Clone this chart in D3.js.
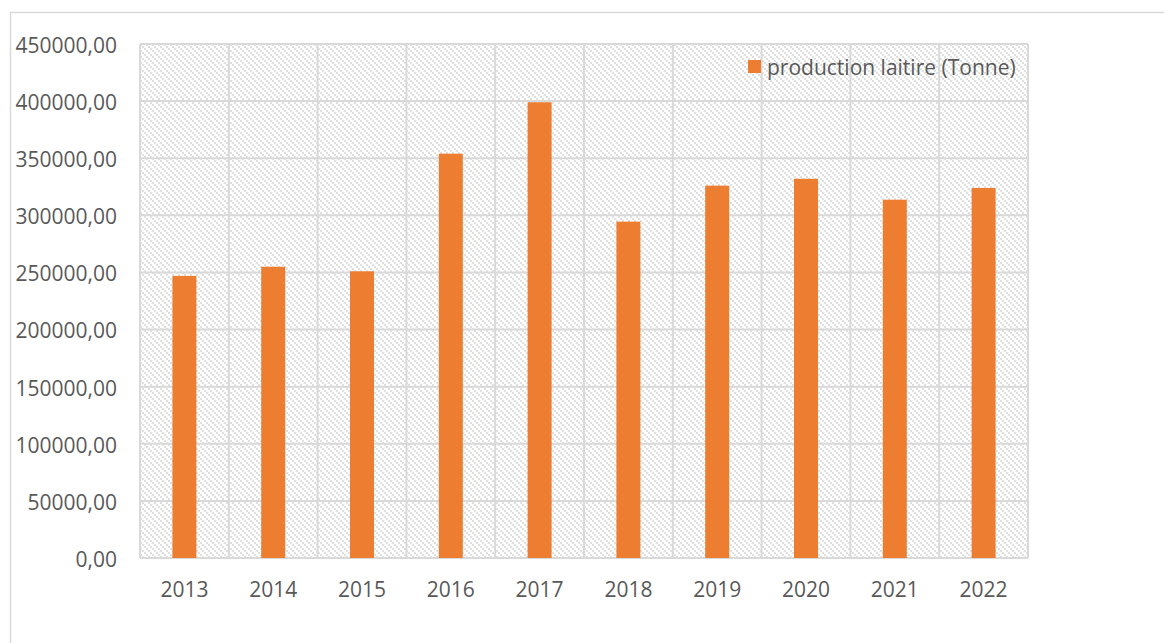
<!DOCTYPE html>
<html>
<head>
<meta charset="utf-8">
<script src="https://cdn.jsdelivr.net/npm/d3@7"></script>
<style>
  body { margin: 0; background: #fff; }
  text { font-family: "Open Sans", sans-serif; fill: #595959; }
</style>
</head>
<body>
<div id="chart"></div>
<script>
// data
const years = ["2013", "2014", "2015", "2016", "2017", "2018", "2019", "2020", "2021", "2022"];
const production = [247000, 255000, 251000, 354000, 399000, 294500, 326000, 332000, 313700, 324000];
const yTicks = [0, 50000, 100000, 150000, 200000, 250000, 300000, 350000, 400000, 450000];
const seriesName = "production laitire (Tonne)";

const width = 1164, height = 643;
const plot = { left: 140, right: 1028, top: 44, bottom: 558 };
const fontSize = 21;

const svg = d3.select('#chart')
    .append('svg')
    .attr('width', width)
    .attr('height', height);

// hatch pattern like excel's dotted diagonal fill
const defs = svg.append('defs');
const pat = defs.append('pattern')
    .attr('id', 'hatch')
    .attr('patternUnits', 'userSpaceOnUse')
    .attr('width', 6)
    .attr('height', 6);
pat.append('rect').attr('width', 6).attr('height', 6).attr('fill', '#fff');
[[0, 0], [2, 2], [4, 4]].forEach(p => {
    pat.append('rect')
        .attr('x', p[0]).attr('y', p[1])
        .attr('width', 2).attr('height', 2)
        .attr('fill', '#e0e0e0');
});

// outer chart frame
svg.append('rect')
    .attr('x', 10.5).attr('y', 12.5)
    .attr('width', 1300).attr('height', 800)
    .attr('fill', 'none')
    .attr('stroke', '#d9d9d9')
    .attr('stroke-width', 1.5);

const x = d3.scaleBand()
    .domain(years)
    .range([plot.left, plot.right])
    .paddingInner(0)
    .paddingOuter(0);

const y = d3.scaleLinear()
    .domain([0, 450000])
    .range([plot.bottom, plot.top]);

// plot background
svg.append('rect')
    .attr('x', plot.left).attr('y', plot.top)
    .attr('width', plot.right - plot.left)
    .attr('height', plot.bottom - plot.top)
    .attr('fill', 'url(#hatch)');

// horizontal gridlines
svg.append('g')
    .selectAll('line')
    .data(yTicks)
    .enter()
    .append('line')
    .attr('x1', plot.left).attr('x2', plot.right)
    .attr('y1', d => y(d)).attr('y2', d => y(d))
    .attr('stroke', '#d9d9d9')
    .attr('stroke-width', 2);

// vertical gridlines at category edges
const edges = years.map(d => x(d)).concat([plot.right]);
svg.append('g')
    .selectAll('line')
    .data(edges)
    .enter()
    .append('line')
    .attr('x1', d => d).attr('x2', d => d)
    .attr('y1', plot.top).attr('y2', plot.bottom)
    .attr('stroke', '#d9d9d9')
    .attr('stroke-width', 2);

// bars
const barW = 24;
svg.selectAll('rect.bar')
    .data(years)
    .enter()
    .append('rect')
    .attr('class', 'bar')
    .attr('x', (d) => x(d) + x.bandwidth() / 2 - barW / 2)
    .attr('y', (d, i) => y(production[i]))
    .attr('width', barW)
    .attr('height', (d, i) => y(0) - y(production[i]))
    .attr('fill', '#ED7D31');

// y axis labels
const fmt = d => d.toFixed(2).replace('.', ',');
const yAxis = d3.axisLeft(y).tickValues(yTicks).tickFormat(fmt).tickSize(0).tickPadding(23);
const gy = svg.append('g')
    .attr('transform', `translate(${plot.left},0)`)
    .call(yAxis);
gy.select('.domain').remove();
gy.selectAll('text')
    .attr('font-family', '"Open Sans", sans-serif')
    .attr('font-size', fontSize)
    .attr('fill', '#595959')
    .attr('dy', '0.4em');

// x axis labels
const xAxis = d3.axisBottom(x).tickSize(0).tickPadding(24);
const gx = svg.append('g')
    .attr('transform', `translate(0,${plot.bottom})`)
    .call(xAxis);
gx.select('.domain').remove();
gx.selectAll('text')
    .attr('font-family', '"Open Sans", sans-serif')
    .attr('font-size', fontSize)
    .attr('fill', '#595959');

// legend
const lg = svg.append('g').attr('transform', 'translate(748,60)');
lg.append('rect')
    .attr('width', 13).attr('height', 13)
    .attr('fill', '#ED7D31');
lg.append('text')
    .attr('x', 19).attr('y', 15)
    .attr('font-size', fontSize)
    .text(seriesName);
</script>
</body>
</html>
